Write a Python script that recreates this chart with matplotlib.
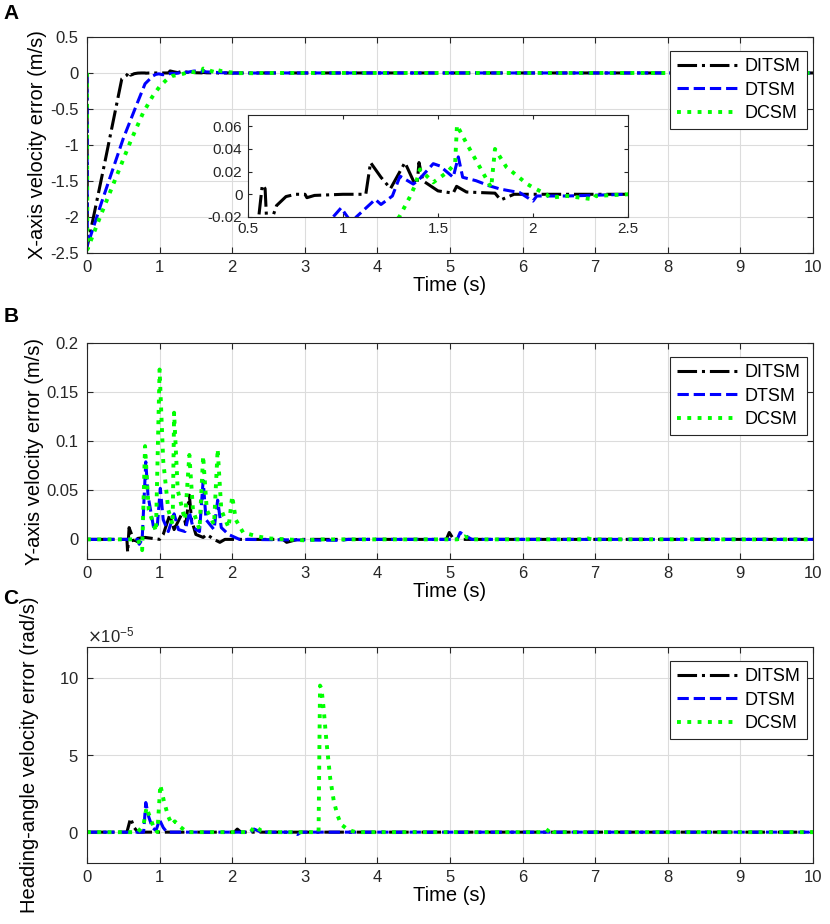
import numpy as np
import matplotlib.pyplot as plt
from matplotlib.ticker import ScalarFormatter

plt.rcParams['font.family'] = ['Liberation Sans', 'DejaVu Sans']
plt.rcParams['axes.unicode_minus'] = False

names = ['DITSM', 'DTSM', 'DCSM']
colors = ['k', '#0000ff', '#00ff00']
styles = ['-.', '--', ':']
widths = [2.2, 2.2, 2.8]

# ---- panel A: X-axis velocity error (m/s)
ax_t_ditsm = [0, 0.005, 0.1, 0.25, 0.48, 0.55, 0.575, 0.59, 0.6, 0.63, 0.65, 0.7, 0.75, 0.8, 0.81,
              0.85, 1.0, 1.12, 1.145, 1.2, 1.25, 1.326, 1.37, 1.39, 1.4, 1.42, 1.5, 1.58, 1.598,
              1.65, 1.8, 1.83, 1.9, 2.5, 10]
ax_v_ditsm = [0, -2.4, -1.95, -1.22, -0.08, -0.03, 0.008, 0.005, -0.03, -0.02, -0.01, -0.002, 0, 0, -0.003,
              -0.001, 0, 0, 0.028, 0.015, 0.005, 0.028, 0.012, 0.009, 0.028, 0.012, 0.003, 0.001, 0.007,
              0.002, 0.001, -0.005, 0, 0, 0]
ax_t_dtsm = [0, 0.005, 0.2, 0.5, 0.7, 0.8, 0.91, 0.948, 0.99, 1.045, 1.07, 1.17, 1.2, 1.26, 1.3,
             1.37, 1.4, 1.475, 1.51, 1.58, 1.607, 1.63, 1.7, 1.77, 1.83, 1.93, 2.0, 2.02, 2.18, 2.5, 10]
ax_v_dtsm = [0, -2.4, -1.8, -0.91, -0.4, -0.15, -0.04, -0.02, -0.012, -0.025, -0.02, -0.0045, -0.009,
             -0.0015, 0.016, 0.009, 0.013, 0.027, 0.025, 0.015, 0.033, 0.015, 0.012, 0.0075, 0.0045,
             0.0015, -0.006, -0.0015, -0.0015, 0, 0]
ax_t_dcsm = [0, 0.005, 0.2, 0.4, 0.6, 0.77, 0.9, 1.0, 1.1, 1.18, 1.296, 1.35, 1.38, 1.405, 1.475,
             1.545, 1.59, 1.6, 1.65, 1.72, 1.78, 1.8, 1.86, 1.97, 2.0, 2.07, 2.09, 2.18, 2.32, 2.33, 2.5, 10]
ax_v_dcsm = [0, -2.45, -1.95, -1.45, -0.95, -0.56, -0.33, -0.19, -0.09, -0.04, -0.02, -0.003, 0.008,
             0.022, 0.0105, 0.019, 0.027, 0.061, 0.045, 0.024, 0.006, 0.040, 0.024, 0.009, 0.006, 0,
             -0.003, -0.0015, -0.0045, -0.0015, 0, 0]

# ---- panel B: Y-axis velocity error (m/s)
by_t_ditsm = [0, 0.55, 0.56, 0.58, 0.62, 0.65, 0.7, 0.8, 1.0, 1.05, 1.14, 1.2, 1.32, 1.36, 1.41,
              1.44, 1.5, 1.6, 1.65, 1.75, 1.83, 1.9, 2.7, 2.75, 2.9, 4.95, 4.99, 5.05, 10]
by_v_ditsm = [0, 0, -0.013, 0.012, 0.004, -0.005, 0.001, 0.002, 0, 0.005, 0.025, 0.01, 0.028, 0.015,
              0.045, 0.02, 0.005, 0.002, 0.005, 0, -0.003, 0, 0, -0.003, 0, 0, 0.007, 0, 0]
by_t_dtsm = [0, 0.7, 0.72, 0.76, 0.81, 0.84, 0.92, 0.97, 1.01, 1.05, 1.12, 1.2, 1.26, 1.35, 1.41,
             1.46, 1.55, 1.6, 1.64, 1.75, 1.8, 1.85, 1.95, 2.1, 3.5, 3.6, 5.1, 5.14, 5.3, 10]
by_v_dtsm = [0, 0, -0.005, 0, 0.079, 0.045, 0.011, 0.015, 0.052, 0.02, 0.008, 0.026, 0.01, 0.008, 0.028,
             0.012, 0.008, 0.06, 0.02, 0.01, 0.04, 0.012, 0.005, 0, -0.001, 0, 0, 0.007, 0, 0]
by_t_dcsm = [0, 0.7, 0.76, 0.8, 0.85, 0.95, 1.0, 1.05, 1.12, 1.18, 1.2, 1.25, 1.35, 1.41, 1.46,
             1.55, 1.6, 1.65, 1.75, 1.8, 1.85, 1.95, 2.0, 2.05, 2.15, 2.2, 2.35, 2.5, 3.0, 3.2, 5.1,
             5.2, 5.3, 6.85, 6.9, 6.95, 10]
by_v_dcsm = [0, 0, -0.011, 0.095, 0.03, 0.008, 0.173, 0.08, 0.03, 0.015, 0.129, 0.05, 0.02, 0.086, 0.03,
             0.01, 0.085, 0.03, 0.015, 0.092, 0.03, 0.012, 0.044, 0.02, 0.007, 0.006, 0.003, 0.001,
             -0.001, 0, 0, 0.003, 0, 0, 0.001, 0, 0]

# ---- panel C: heading-angle velocity error (rad/s), in units of 1e-5
ch_t_ditsm = [0, 0.55, 0.6, 0.65, 0.7, 2.03, 2.07, 2.12, 10]
ch_v_ditsm = [0, 0, 0.9, 0.3, 0, 0, 0.2, 0, 0]
ch_t_dtsm = [0, 0.78, 0.81, 0.85, 0.9, 0.95, 1.0, 1.05, 1.1, 2.25, 2.3, 2.4, 2.85, 2.9, 2.95, 10]
ch_v_dtsm = [0, 0, 1.92, 1.0, 0.3, 0.1, 0.8, 0.3, 0, 0, 0.2, 0, 0, -0.15, 0, 0]
ch_t_dcsm = [0, 0.7, 0.75, 0.78, 0.82, 0.88, 0.92, 0.97, 1.01, 1.06, 1.12, 1.17, 1.21, 1.27, 1.35,
             1.4, 2.25, 2.31, 2.4, 2.5, 3.19, 3.21, 3.23, 3.26, 3.3, 3.35, 3.4, 3.45, 3.5, 3.6, 3.7,
             6.33, 6.38, 6.43, 10]
ch_v_dcsm = [0, 0, 0.3, 0.5, 1.6, 0.8, 0.3, 0.0, 3.06, 2.0, 1.0, 0.5, 0.7, 0.4, 0.1,
             0, 0, 0.37, 0.1, 0, 0, 9.5, 9.3, 8.0, 5.8, 3.5, 2.0, 1.1, 0.5, 0.15, 0,
             0, 0.3, 0, 0]

fig = plt.figure(figsize=(8.3, 9.24), dpi=100)


def style_axes(ax, fs=12):
    ax.tick_params(direction='in', top=True, right=True, length=4, labelsize=fs,
                   color='#262626', labelcolor='#262626')
    ax.tick_params(axis='y', pad=6)
    ax.tick_params(axis='x', pad=5)
    ax.grid(True, color='#dcdcdc', linewidth=0.8)
    ax.set_axisbelow(True)
    for s in ax.spines.values():
        s.set_color('#262626')
        s.set_linewidth(0.8)


def draw(ax, series):
    for (t, v), c, ls, lw, nm in zip(series, colors, styles, widths, names):
        ax.plot(t, v, color=c, linestyle=ls, linewidth=lw, label=nm)


def add_legend(ax):
    leg = ax.legend(loc='upper right', bbox_to_anchor=(0.992, 0.935), fontsize=13,
                    handlelength=3.3, handletextpad=0.4, borderpad=0.4, labelspacing=0.35,
                    fancybox=False, framealpha=1, edgecolor='#262626', borderaxespad=0)
    leg.get_frame().set_linewidth(0.8)


pos_w = 0.8747
pos_h = 0.2338

# A
axA = fig.add_axes([0.1048, 0.7262, pos_w, pos_h])
draw(axA, [(ax_t_ditsm, ax_v_ditsm), (ax_t_dtsm, ax_v_dtsm), (ax_t_dcsm, ax_v_dcsm)])
axA.set_xlim(0, 10)
axA.set_ylim(-2.5, 0.5)
axA.set_xticks(range(0, 11))
axA.set_yticks(np.arange(-2.5, 0.51, 0.5))
axA.set_yticklabels(['-2.5', '-2', '-1.5', '-1', '-0.5', '0', '0.5'])
axA.set_xlabel('Time (s)', fontsize=14.5, labelpad=1)
axA.set_ylabel('X-axis velocity error (m/s)', fontsize=14.5, labelpad=2)
style_axes(axA)
add_legend(axA)

# inset
axI = fig.add_axes([0.2988, 0.7652, 0.4578, 0.1104])
draw(axI, [(ax_t_ditsm, ax_v_ditsm), (ax_t_dtsm, ax_v_dtsm), (ax_t_dcsm, ax_v_dcsm)])
axI.set_xlim(0.5, 2.5)
axI.set_ylim(-0.02, 0.07)
axI.set_xticks([0.5, 1, 1.5, 2, 2.5])
axI.set_xticklabels(['0.5', '1', '1.5', '2', '2.5'])
axI.set_yticks([-0.02, 0, 0.02, 0.04, 0.06])
axI.set_yticklabels(['-0.02', '0', '0.02', '0.04', '0.06'])
axI.tick_params(direction='in', top=True, right=True, length=3, labelsize=11,
                color='#262626', labelcolor='#262626')
axI.tick_params(axis='y', pad=4)
for s in axI.spines.values():
    s.set_color('#262626')
    s.set_linewidth(0.8)

# B
axB = fig.add_axes([0.1048, 0.395, pos_w, pos_h])
draw(axB, [(by_t_ditsm, by_v_ditsm), (by_t_dtsm, by_v_dtsm), (by_t_dcsm, by_v_dcsm)])
axB.set_xlim(0, 10)
axB.set_ylim(-0.02, 0.2)
axB.set_xticks(range(0, 11))
axB.set_yticks([0, 0.05, 0.1, 0.15, 0.2])
axB.set_yticklabels(['0', '0.05', '0.1', '0.15', '0.2'])
axB.set_xlabel('Time (s)', fontsize=14.5, labelpad=1)
axB.set_ylabel('Y-axis velocity error (m/s)', fontsize=14.5, labelpad=2)
style_axes(axB)
add_legend(axB)

# C
axC = fig.add_axes([0.1048, 0.066, pos_w, pos_h])
ch_series = [(ch_t_ditsm, np.array(ch_v_ditsm) * 1e-5),
             (ch_t_dtsm, np.array(ch_v_dtsm) * 1e-5),
             (ch_t_dcsm, np.array(ch_v_dcsm) * 1e-5)]
draw(axC, ch_series)
axC.set_xlim(0, 10)
axC.set_ylim(-2e-5, 12e-5)
axC.set_xticks(range(0, 11))
axC.set_yticks([0, 5e-5, 10e-5])
fmt = ScalarFormatter(useMathText=True)
fmt.set_powerlimits((-5, -5))
axC.yaxis.set_major_formatter(fmt)
axC.yaxis.get_offset_text().set_fontsize(12)
axC.set_xlabel('Time (s)', fontsize=14.5, labelpad=1)
axC.set_ylabel('Heading-angle velocity error (rad/s)', fontsize=14.5, labelpad=14)
style_axes(axC)
add_legend(axC)

fig.text(0.004, 0.985, 'A', fontsize=15, fontweight='bold', va='center')
fig.text(0.004, 0.657, 'B', fontsize=15, fontweight='bold', va='center')
fig.text(0.004, 0.352, 'C', fontsize=15, fontweight='bold', va='center')

fig.savefig('out.png', dpi=100)
